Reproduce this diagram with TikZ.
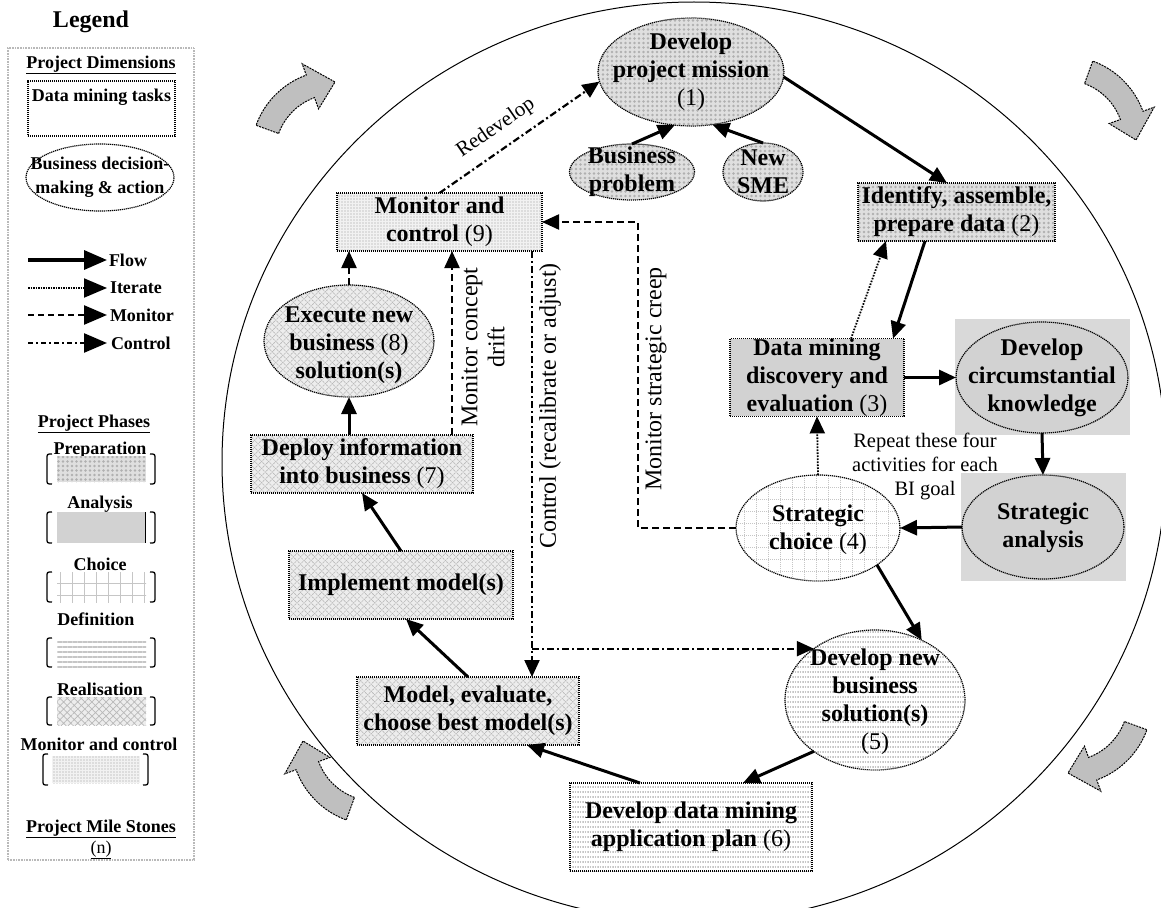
\documentclass[tikz,border=0pt]{standalone}
\usepackage{fontspec}
\setmainfont{Liberation Serif}
\usetikzlibrary{arrows.meta,patterns,patterns.meta,shapes.geometric}
\newcommand\mnum[1]{\textmd{(#1)}}
\newcommand\turnarrow[2]{%
  \begin{scope}[shift={#1},rotate=#2]
    \path[garrow] plot[domain=200:250,samples=16] (\x:60) -- (250:48) -- (270:72) -- (250:96) -- plot[domain=250:200,samples=16] (\x:84) -- cycle;
  \end{scope}}
\newcommand\legbrk[4]{%
  \draw[brk] (#1+5,#3) .. controls (#1,#3) .. (#1,#3+5) -- (#1,#4-5) .. controls (#1,#4) .. (#1+5,#4);
  \draw[brk] (#2-5,#3) .. controls (#2,#3) .. (#2,#3+5) -- (#2,#4-5) .. controls (#2,#4) .. (#2-5,#4);}
\tikzset{
  every node/.style={inner sep=0pt, outer sep=0pt},
  nd/.style={draw=black, line width=1.2pt, dash pattern=on 1.2pt off 0.8pt},
  boxn/.style={rectangle, nd},
  elln/.style={ellipse, nd},
  txt/.style={align=center, font=\fontsize{24}{28}\selectfont\bfseries},
  lbl/.style={align=center, font=\fontsize{24}{27}\selectfont},
  leg/.style={align=center, font=\fontsize{18}{24}\selectfont\bfseries},
  prep/.style={preaction={fill=gray!25}, pattern={Dots[radius=1.4pt,distance=4.5pt]}, pattern color=gray!62},
  anal/.style={fill=gray!35},
  choi/.style={preaction={fill=white}, pattern={Hatch[angle=0,distance=12pt,line width=0.5pt]}, pattern color=gray!45},
  defn/.style={preaction={fill=white}, pattern={Lines[angle=0,distance=5pt,line width=1.3pt]}, pattern color=gray!45},
  real/.style={preaction={fill=gray!14}, pattern={Hatch[angle=45,distance=5pt,line width=0.7pt]}, pattern color=gray!55},
  moco/.style={preaction={fill=gray!10}, pattern={Dots[radius=0.7pt,distance=3pt]}, pattern color=gray!80},
  tip/.style={-{Triangle[length=17pt,width=15pt]}},
  ltip/.style={-{Triangle[length=23pt,width=19pt]}},
  flow/.style={line width=3pt, tip},
  iter/.style={line width=1.8pt, dash pattern=on 1.6pt off 1.4pt, tip},
  moni/.style={line width=2.2pt, dash pattern=on 7pt off 4pt, tip},
  ctrl/.style={line width=2.2pt, dash pattern=on 7pt off 3pt on 2pt off 3pt, tip},
  garrow/.style={fill=gray!50, draw=black, line width=1pt, dash pattern=on 2pt off 1pt},
  brk/.style={line width=1.3pt},
}
\begin{document}
\begin{tikzpicture}[x=1pt,y=-1pt]
\useasboundingbox (0,0) rectangle (1161,907);
\clip (0,0) rectangle (1161,907);
\fill[white] (0,0) rectangle (1161,907);

% big circle
\draw[line width=1pt] (694,462) ellipse [x radius=472pt, y radius=460pt];

% turning arrows
\turnarrow{(335,154)}{0}
\turnarrow{(1064,140)}{-90}
\turnarrow{(1068,701)}{180}
\turnarrow{(375,741)}{90}

% ---------------- legend ----------------
\node[font=\fontsize{24}{28}\selectfont\bfseries] (legt) at (91,22) {Legend};
\node[draw=gray!55, line width=2.5pt, dash pattern=on 1pt off 0.6pt, minimum width=186pt, minimum height=812pt] (legfr) at (101,454) {};
\node[leg] (pdim) at (101,65) {\underline{Project Dimensions}};
\node[boxn, minimum width=147pt, minimum height=55pt] (lbox) at (101.5,108.5) {};
\node[leg] (lboxt) at (101.5,97) {Data mining tasks};
\node[elln, minimum width=148pt, minimum height=67pt] (lell) at (100,177.5) {};
\node[leg] (lellt) at (100,177) {Business decision-\\making \& action};

\coordinate (fa) at (28,260); \coordinate (fb) at (107,260);
\coordinate (ia) at (28,288); \coordinate (ib) at (107,288);
\coordinate (ma) at (28,315); \coordinate (mb) at (107,315);
\coordinate (ca) at (28,343); \coordinate (cb) at (107,343);
\draw[line width=3.4pt, ltip] (fa) -- (fb);
\draw[line width=2pt, dash pattern=on 1.5pt off 1pt, ltip] (ia) -- (ib);
\draw[line width=2.5pt, dash pattern=on 6pt off 4pt, ltip] (ma) -- (mb);
\draw[line width=2.5pt, dash pattern=on 5pt off 3pt on 2pt off 3pt, ltip] (ca) -- (cb);
\node[leg, anchor=west] (lfl) at (109,260) {Flow};
\node[leg, anchor=west] (lit) at (110,288) {Iterate};
\node[leg, anchor=west] (lmo) at (110,315) {Monitor};
\node[leg, anchor=west] (lco) at (111,343) {Control};

\node[leg] (pph) at (94,424) {\underline{Project Phases}};
\node[leg] (lprep) at (100,450) {Preparation};
\path[prep] (57,456) rectangle (146,482);
\legbrk{47}{155}{454}{484}
\node[leg] (lanal) at (100,504) {Analysis};
\path[anal] (57,512) rectangle (145,543);
\draw[line width=1pt] (145,512) -- (145,543);
\legbrk{47}{155}{512}{543}
\node[leg] (lchoi) at (100,564) {Choice};
\path[choi] (57,572) rectangle (146,602);
\legbrk{47}{155}{572}{602}
\node[leg] (ldefn) at (96,619) {Definition};
\path[defn] (57,638) rectangle (146,667);
\legbrk{47}{155}{638}{667}
\node[leg] (lreal) at (100,689) {Realisation};
\path[real] (57,697) rectangle (146,725);
\legbrk{47}{155}{697}{725}
\node[leg] (lmoco) at (99,744) {Monitor and control};
\path[moco] (52,756) rectangle (140,783);
\legbrk{43}{148}{754}{785}
\node[leg] (lpms) at (101,829) {\underline{Project Mile Stones}};
\node[leg, font=\fontsize{18}{24}\selectfont] (lpn) at (101,850) {\underline{(n)}};

% ---------------- main nodes ----------------
\fill[gray!30] (955,319) rectangle (1130,435);
\fill[gray!30] (961,473) rectangle (1126,581);

\node[elln, prep, minimum width=186pt, minimum height=108pt] (n1) at (691,72) {};
\node[txt] (n1t) at (691,72) {Develop\\project mission\\\mnum{1}};
\node[elln, prep, minimum width=125pt, minimum height=56pt] (bp) at (632,172) {};
\node[txt] (bpt) at (632,172) {Business\\problem};
\node[elln, prep, minimum width=80pt, minimum height=58pt] (sme) at (763,172) {};
\node[txt] (smet) at (763,172) {New\\SME};

\node[boxn, prep, txt, minimum width=197pt, minimum height=58pt] (n2) at (956.5,212) {Identify, assemble,\\prepare data \mnum{2}};
\node[boxn, anal, txt, minimum width=174pt, minimum height=77pt] (n3) at (817,377.5) {Data mining\\discovery and\\evaluation \mnum{3}};
\node[elln, anal, minimum width=172pt, minimum height=111pt] (ck) at (1042,377.5) {};
\node[txt] (ckt) at (1042,378) {Develop\\circumstantial\\knowledge};
\node[elln, anal, minimum width=162pt, minimum height=104pt] (sa) at (1043,527) {};
\node[txt] (sat) at (1043,528) {Strategic\\analysis};
\node[elln, choi, minimum width=164pt, minimum height=106pt] (sc) at (818,528) {};
\node[txt] (sct) at (818,530) {Strategic\\choice \mnum{4}};
\node[elln, defn, minimum width=180pt, minimum height=140pt] (n5) at (875,700) {};
\node[txt] (n5t) at (875,702) {Develop new\\business\\solution(s)\\\mnum{5}};
\node[boxn, defn, txt, minimum width=242pt, minimum height=88pt] (n6) at (691,827) {Develop data mining\\application plan \mnum{6}};
\node[boxn, real, txt, minimum width=222pt, minimum height=68pt] (model) at (468,711) {Model, evaluate,\\choose best model(s)};
\node[boxn, real, txt, minimum width=224pt, minimum height=68pt] (impl) at (401,585) {Implement model(s)};
\node[boxn, real, txt, minimum width=222pt, minimum height=58pt] (deploy) at (362,464) {Deploy information\\into business \mnum{7}};
\node[elln, real, minimum width=170pt, minimum height=112pt] (exec) at (349,341) {};
\node[txt] (exect) at (349,345) {Execute new\\business \mnum{8}\\solution(s)};
\node[boxn, moco, txt, minimum width=205pt, minimum height=58pt] (mon) at (439.5,222) {Monitor and\\control \mnum{9}};

% ---------------- labels ----------------
\node[lbl, font=\fontsize{21}{24}\selectfont, rotate=34.6] (redev) at (496,128) {Redevelop};
\node[lbl, rotate=90] (mcd) at (483,347) {Monitor concept\\drift};
\node[lbl, rotate=90] (ctl) at (550,406) {Control (recalibrate or adjust)};
\node[lbl, rotate=90] (msc) at (656,379) {Monitor strategic creep};
\node[lbl, font=\fontsize{20.5}{24}\selectfont] (rep) at (925,466) {Repeat these four\\activities for each\\BI goal};

% ---------------- connectors ----------------
\coordinate (cx) at (532,0);
\coordinate (cm) at (638,0);
\draw[flow] (bp.north) -- (n1.253);
\draw[flow] (sme.north) -- (n1.292);
\draw[flow] (n1.357) -- ([xshift=-9.5pt]n2.north);
\draw[flow] ([xshift=-31.5pt]n2.south) -- ([xshift=-11pt]n3.north east);
\draw[flow] (n3.east) -- (ck.west);
\draw[flow] (ck.south) -- (sa.north);
\draw[flow] (sa.west) -- (sc.east);
\draw[flow] (sc.328) -- (n5.52);
\draw[flow] (n5.220) -- ([xshift=52pt]n6.north);
\draw[flow] ([xshift=-51pt]n6.north) -- ([xshift=-52pt]model.south east);
\draw[flow] (model.north) -- ([xshift=5pt]impl.south);
\draw[flow] (impl.north) -- (deploy.south);
\draw[flow] (exec.south |- deploy.north) -- (exec.south);
\draw[iter] ([xshift=34pt]n3.north) -- ([xshift=-70.5pt]n2.south);
\draw[iter] (sc.north) -- (n3.south);
\draw[moni] (exec.north) -- (exec.north |- mon.south);
\draw[moni] ([xshift=90pt]deploy.north) -- ([xshift=90pt]deploy.north |- mon.south);
\draw[moni] (sc.west) -- (sc.west -| cm) |- (mon.east);
\draw[ctrl] (mon.north) -- (n1.186);
\draw[ctrl] (mon.south -| cx) -- (model.north -| cx);
\draw[ctrl] (cx |- n5.140) -- (n5.140);
\end{tikzpicture}
\end{document}
